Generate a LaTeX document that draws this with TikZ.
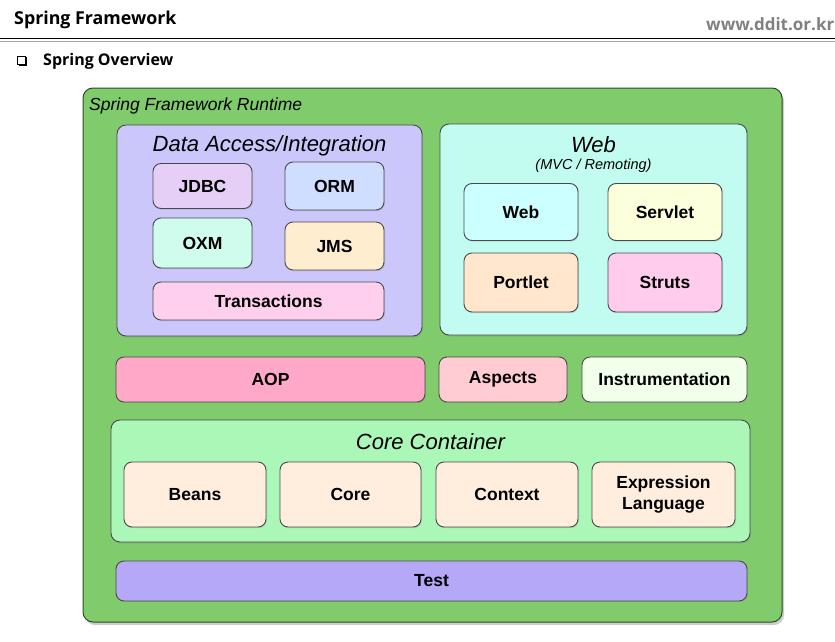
\documentclass[tikz,border=0pt]{standalone}
\usepackage{fontspec}
\setmainfont{Liberation Sans}
\newfontfamily\hdrfont{Open Sans}
\usetikzlibrary{shadows}
\definecolor{outerg}{HTML}{80CC6C}
\definecolor{daf}{HTML}{CBC7FA}
\definecolor{webf}{HTML}{C2FCF0}
\definecolor{coref}{HTML}{AAF7B8}
\definecolor{edge}{HTML}{4A4A4A}
\definecolor{outeredge}{HTML}{2F4A2A}
\definecolor{cjdbc}{HTML}{E6CFF7}
\definecolor{corm}{HTML}{CFDDFF}
\definecolor{coxm}{HTML}{CFFCEC}
\definecolor{cjms}{HTML}{FFEDD0}
\definecolor{ctx}{HTML}{FFD0EE}
\definecolor{cweb}{HTML}{CCFFFF}
\definecolor{cservlet}{HTML}{FCFFDC}
\definecolor{cportlet}{HTML}{FFE6CC}
\definecolor{cstruts}{HTML}{FFCCEE}
\definecolor{caop}{HTML}{FFA8C8}
\definecolor{casp}{HTML}{FFCCD4}
\definecolor{cinstr}{HTML}{F2FFEA}
\definecolor{ccore}{HTML}{FFEEDD}
\definecolor{ctest}{HTML}{B5A8F7}
\tikzset{
  mod/.style={draw=edge, line width=0.9pt, rounded corners=8pt, inner sep=0pt, align=center,
     font=\fontsize{17.5}{21}\selectfont\bfseries,
     drop shadow={shadow xshift=1pt, shadow yshift=-1.2pt, opacity=0.25}},
  grp/.style={draw=edge, line width=0.9pt, rounded corners=9pt, inner sep=0pt,
     drop shadow={shadow xshift=1pt, shadow yshift=-1.5pt, opacity=0.3}},
  gtitle/.style={font=\fontsize{22}{24}\selectfont\itshape, inner sep=0pt}
}
\begin{document}
\begin{tikzpicture}[x=1pt,y=-1pt]
\useasboundingbox (0,0) rectangle (835,642);
\fill[white] (0,0) rectangle (835,642);
% header
\node[anchor=west, inner sep=0pt, font=\hdrfont\fontsize{17.8}{20}\selectfont\bfseries] (title) at (14,20) {Spring Framework};
\node[anchor=west, inner sep=0pt, text=black!50, font=\hdrfont\fontsize{17}{19}\selectfont\bfseries] (url) at (706,24) {www.ddit.or.kr};
\draw[line width=1.6pt, black] (0,38.5) -- (835,38.5);
\draw[line width=0.8pt, black!35] (0,41.5) -- (835,41.5);
\draw[line width=0.9pt, fill=white] (17.5,56.5) rectangle (25.5,64.5);
\draw[line width=1.6pt] (26.5,57.5) -- (26.5,65.3) -- (18.5,65.3);
\node[anchor=west, inner sep=0pt, font=\hdrfont\fontsize{16}{18}\selectfont\bfseries] (ov) at (43,61) {Spring Overview};
% outer
\node[draw=outeredge, line width=1pt, inner sep=0pt, fill=outerg, minimum width=699pt, minimum height=534pt, rounded corners=10pt,
  drop shadow={shadow xshift=2pt, shadow yshift=-3pt, opacity=0.4}] (outer) at (432.5,355) {};
\node[anchor=west, inner sep=0pt, font=\fontsize{17.5}{19}\selectfont\itshape] (rt) at (89,105.5) {Spring Framework Runtime};
% data access
\node[grp, fill=daf, minimum width=305pt, minimum height=211pt] (da) at (269.5,230.5) {};
\node[gtitle] (dat) at (269.5,145.5) {Data Access/Integration};
\node[mod, fill=cjdbc, minimum width=99pt, minimum height=45pt] (jdbc) at (202.5,186) {JDBC};
\node[mod, fill=corm, minimum width=99pt, minimum height=48pt] (orm) at (334.5,186) {ORM};
\node[mod, fill=coxm, minimum width=99pt, minimum height=50pt] (oxm) at (202.5,243) {OXM};
\node[mod, fill=cjms, minimum width=99pt, minimum height=48pt] (jms) at (334.5,246) {JMS};
\node[mod, fill=ctx, minimum width=231pt, minimum height=38pt] (tx) at (268.5,301) {Transactions};
% web
\node[grp, fill=webf, minimum width=307pt, minimum height=211pt] (web) at (593.5,229.5) {};
\node[gtitle] (webt) at (593.5,145) {Web};
\node[inner sep=0pt, font=\fontsize{14.5}{16}\selectfont\itshape] (mvc) at (593.5,166) {(MVC / Remoting)};
\node[mod, fill=cweb, minimum width=114pt, minimum height=57pt] (webm) at (521,212) {Web};
\node[mod, fill=cservlet, minimum width=114pt, minimum height=57pt] (servlet) at (665,212) {Servlet};
\node[mod, fill=cportlet, minimum width=114pt, minimum height=59pt] (portlet) at (521,282.5) {Portlet};
\node[mod, fill=cstruts, minimum width=114pt, minimum height=59pt] (struts) at (665,282.5) {Struts};
% aop row
\node[mod, fill=caop, minimum width=309pt, minimum height=45pt] (aop) at (270.5,379.5) {AOP};
\node[mod, fill=casp, minimum width=128pt, minimum height=45pt] (asp) at (503,379.5) {Aspects};
\node[mod, fill=cinstr, minimum width=165pt, minimum height=45pt] (instr) at (664.5,379.5) {Instrumentation};
% core container
\node[grp, fill=coref, minimum width=639pt, minimum height=122pt] (cc) at (430.5,481) {};
\node[gtitle] (cct) at (430.5,441.5) {Core Container};
\node[mod, fill=ccore, minimum width=142pt, minimum height=65pt] (beans) at (195,494.5) {Beans};
\node[mod, fill=ccore, minimum width=141pt, minimum height=65pt] (core) at (350.5,494.5) {Core};
\node[mod, fill=ccore, minimum width=142pt, minimum height=65pt] (ctxn) at (507,494.5) {Context};
\node[mod, fill=ccore, minimum width=143pt, minimum height=65pt] (el) at (663.5,494.5) {Expression\\Language};
% test
\node[mod, fill=ctest, minimum width=631pt, minimum height=40pt] (test) at (431.5,581) {Test};
\end{tikzpicture}
\end{document}
